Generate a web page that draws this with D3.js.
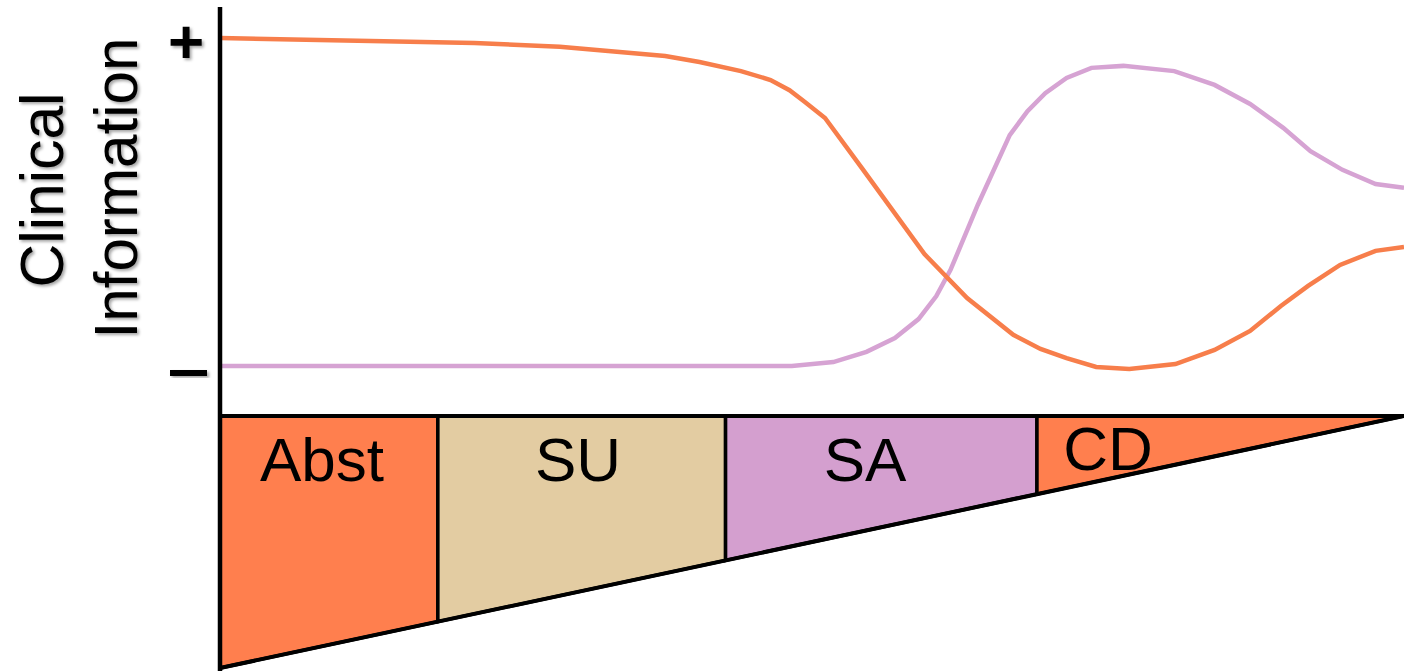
<!DOCTYPE html>
<html>
<head>
<meta charset="utf-8">
<script src="https://cdn.jsdelivr.net/npm/d3@7"></script>
<style>
  html, body { margin: 0; padding: 0; background: #fff; }
  svg { display: block; font-family: "Liberation Sans", Arial, sans-serif; }
</style>
</head>
<body>
<script>
// timeline position (0-100) and clinical information level (0 = "−", 100 = "+")
const orangeX = [0, 21.5, 28.7, 37.6, 40.5, 44.0, 46.5, 48.1, 49.4, 51.1, 54.2, 59.5, 63.1, 67.0, 69.3, 71.5, 74.0, 76.8, 80.7, 84.0, 87.0, 89.6, 91.9, 94.6, 97.6, 100];
const orangeY = [100, 98.5, 97.3, 94.5, 92.7, 89.9, 87.2, 84.1, 80.5, 75.6, 60.4, 34.1, 20.7, 9.5, 5.2, 2.4, -0.3, -0.9, 0.6, 4.9, 10.7, 18.3, 24.4, 30.8, 35.1, 36.3];

const purpleX = [0, 40.5, 48.3, 51.8, 54.6, 57.0, 59.0, 60.5, 61.7, 64.0, 66.7, 68.2, 69.7, 71.5, 73.6, 76.3, 80.6, 84.0, 87.0, 89.8, 92.1, 94.8, 97.6, 100];
const purpleY = [0, 0, 0, 1.2, 4.3, 8.5, 14.3, 21.3, 29.3, 49.1, 70.4, 77.7, 83.2, 87.8, 90.9, 91.5, 89.9, 85.7, 79.9, 72.6, 65.5, 59.8, 55.5, 54.3];

const stageNames = ["Abst", "SU", "SA", "CD"];
const stageStart = [0, 18.4, 42.7, 69.0];
const stageEnd = [18.4, 42.7, 69.0, 100];
const stageColors = ["#FF7F4E", "#E3CCA2", "#D49FCF", "#FF7F4E"];

const yTicks = ["+", "−"];

const width = 1404, height = 671;

const svg = d3.select("body").append("svg")
    .attr("width", width)
    .attr("height", height);

const defs = svg.append("defs");
defs.append("filter")
    .attr("id", "shadow")
    .attr("x", "-20%").attr("y", "-20%")
    .attr("width", "140%").attr("height", "140%")
  .append("feDropShadow")
    .attr("dx", 2).attr("dy", 2)
    .attr("stdDeviation", 1.5)
    .attr("flood-color", "#000")
    .attr("flood-opacity", 0.35);

const x = d3.scaleLinear().domain([0, 100]).range([220, 1404]);
const y = d3.scaleLinear().domain([0, 100]).range([366, 38]);

// wedge: top edge fixed, bottom edge rises toward the right
const wedgeTop = 416;
const wedgeBottom = d3.scaleLinear().domain([0, 100]).range([668, 416]);

// stage wedge pieces
const stages = svg.append("g");
stageNames.forEach((name, i) => {
    const x0 = stageStart[i], x1 = stageEnd[i];
    const pts = [
        [x(x0), wedgeTop],
        [x(x1), wedgeTop],
        [x(x1), wedgeBottom(x1)],
        [x(x0), wedgeBottom(x0)]
    ];
    stages.append("path")
        .attr("d", "M" + pts.join("L") + "Z")
        .attr("fill", stageColors[i])
        .attr("stroke", "#000")
        .attr("stroke-width", 3.5)
        .attr("stroke-linejoin", "miter");
});

// label spots, picked by eye
const labelX = [322, 578, 865, 1108];
const labelY = [481, 481, 481, 470];
stageNames.forEach((name, i) => {
    stages.append("text")
        .attr("x", labelX[i])
        .attr("y", labelY[i])
        .attr("text-anchor", "middle")
        .style("font-size", "62px")
        .text(name);
});

// bottom diagonal & top edge of the wedge
svg.append("line")
    .attr("x1", x(0)).attr("y1", wedgeBottom(0))
    .attr("x2", x(100)).attr("y2", wedgeBottom(100))
    .attr("stroke", "#000").attr("stroke-width", 4);
svg.append("line")
    .attr("x1", x(0)).attr("y1", wedgeTop)
    .attr("x2", x(100)).attr("y2", wedgeTop)
    .attr("stroke", "#000").attr("stroke-width", 4);

// curves
const line = d3.line().x(d => x(d[0])).y(d => y(d[1]));

svg.append("path")
    .datum(purpleX.map((v, i) => [v, purpleY[i]]))
    .attr("d", line)
    .attr("fill", "none")
    .attr("stroke", "#D6A3D3")
    .attr("stroke-width", 4.5);

svg.append("path")
    .datum(orangeX.map((v, i) => [v, orangeY[i]]))
    .attr("d", line)
    .attr("fill", "none")
    .attr("stroke", "#F77E4B")
    .attr("stroke-width", 4.5);

// y axis
svg.append("line")
    .attr("x1", 220).attr("y1", 7)
    .attr("x2", 220).attr("y2", height)
    .attr("stroke", "#000").attr("stroke-width", 4.5);

// + / − markers
svg.append("text")
    .attr("x", 186).attr("y", 63)
    .attr("text-anchor", "middle")
    .attr("filter", "url(#shadow)")
    .style("font-size", "62px")
    .style("font-weight", "bold")
    .text(yTicks[0]);
svg.append("rect")
    .attr("x", 170).attr("y", 370)
    .attr("width", 37).attr("height", 6)
    .attr("fill", "#000")
    .attr("filter", "url(#shadow)");

// axis title
const title = svg.append("g")
    .attr("filter", "url(#shadow)")
    .style("font-size", "61px");
title.append("text")
    .attr("transform", "translate(63,190) rotate(-90)")
    .attr("text-anchor", "middle")
    .attr("textLength", 195)
    .attr("lengthAdjust", "spacingAndGlyphs")
    .text("Clinical");
title.append("text")
    .attr("transform", "translate(137,188) rotate(-90)")
    .attr("text-anchor", "middle")
    .attr("textLength", 301)
    .attr("lengthAdjust", "spacingAndGlyphs")
    .text("Information");
</script>
</body>
</html>
